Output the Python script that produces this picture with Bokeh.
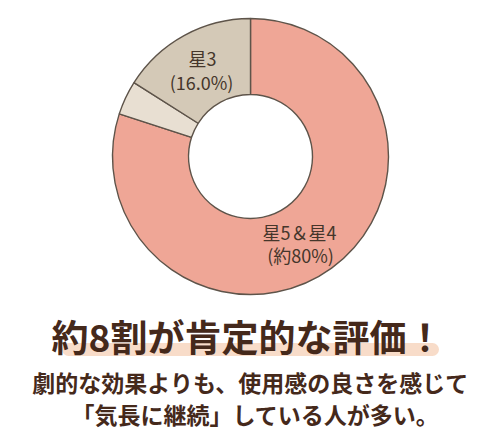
import math
from bokeh.plotting import figure
from bokeh.models import Range1d, ColumnDataSource
from bokeh.core.properties import value
from bokeh.embed import file_html
from bokeh.resources import INLINE

# ---- data ----
categories = ["星5＆星4", "星2以下", "星3"]
shares = [80, 4, 16]
colors = ["#EFA696", "#E8DFD2", "#D4C9B7"]
label_lines = [["星5＆星4", "(約80%)"], None, ["星3", "(16.0%)"]]
title_text = "約8割が肯定的な評価！"
sub_lines = ["劇的な効果よりも、使用感の良さを感じて", "「気長に継続」している人が多い。"]

W, H = 500, 435
p = figure(width=W, height=H, output_backend="svg", toolbar_location=None,
           x_range=Range1d(0, W), y_range=Range1d(0, H), min_border=0)
p.axis.visible = False
p.grid.visible = False
p.outline_line_color = None
p.background_fill_color = "white"
p.border_fill_color = "white"

def Y(py):
    return H - py

cx, cy = 250, Y(156)
total = sum(shares)
starts, ends = [], []
cum = 0
for v in shares:
    s = math.pi / 2 - cum / total * 2 * math.pi
    e = s - v / total * 2 * math.pi
    starts.append(s)
    ends.append(e)
    cum += v

src = ColumnDataSource(dict(x=[cx] * 3, y=[cy] * 3, start=starts, end=ends,
                            color=colors, cat=categories))
p.annular_wedge(x="x", y="y", inner_radius=62, outer_radius=138,
                inner_radius_units="screen", outer_radius_units="screen",
                start_angle="start", end_angle="end", direction="clock",
                fill_color="color", line_color="#5E544A", line_width=1.4,
                source=src)

font = value("Noto Sans CJK JP")
txt_col = "#45362B"
# segment labels
p.text(x=[202, 201], y=[Y(57), Y(81)], text=label_lines[2], text_font=font,
       text_font_size="18px", text_color=txt_col, text_align="center",
       text_baseline="middle")
p.text(x=[299, 300], y=[Y(231), Y(254)], text=label_lines[0], text_font=font,
       text_font_size="18px", text_color=txt_col, text_align="center",
       text_baseline="middle")

# title highlight
p.line(x=[68, 432], y=[Y(349), Y(349)], line_width=13, line_cap="round",
       line_color="#F8DCC9")
p.text(x=[247], y=[Y(335)], text=[title_text], text_font=font,
       text_font_size="37px", text_font_style="bold", text_color="#45291B",
       text_align="center", text_baseline="middle")
p.text(x=[250, 255], y=[Y(381), Y(413)], text=sub_lines, text_font=font,
       text_font_size="23px", text_font_style="bold", text_color="#45291B",
       text_align="center", text_baseline="middle")

open("out.html", "w").write(file_html(p, INLINE))
